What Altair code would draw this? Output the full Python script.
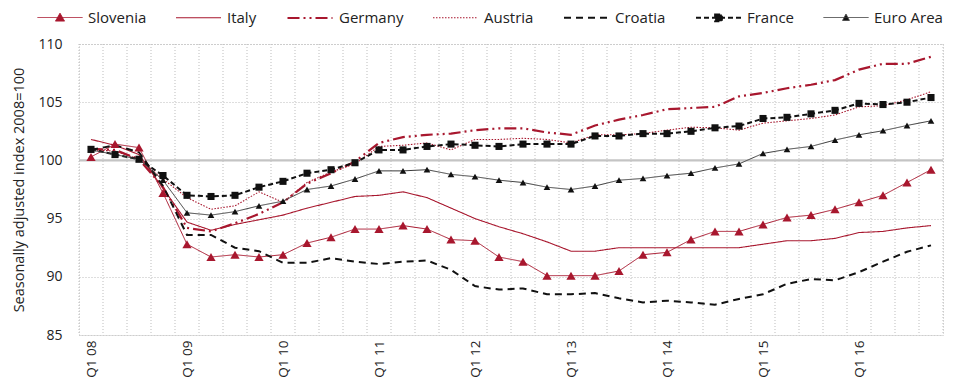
import json
import altair as alt
import pandas as pd

# ---------------- data ----------------
series_names = ["Slovenia", "Italy", "Germany", "Austria", "Croatia", "France", "Euro Area"]

slovenia = [100.3, 101.4, 101.1, 97.2, 92.8, 91.7, 91.9, 91.7, 91.9, 92.9, 93.4, 94.1,
            94.1, 94.4, 94.1, 93.2, 93.1, 91.7, 91.3, 90.1, 90.1, 90.1, 90.5, 91.9,
            92.1, 93.2, 93.9, 93.9, 94.5, 95.1, 95.3, 95.8, 96.4, 97.0, 98.1, 99.2]
italy = [101.8, 101.3, 100.5, 97.6, 94.7, 94.0, 94.5, 94.9, 95.3, 95.9, 96.4, 96.9,
         97.0, 97.3, 96.8, 95.9, 95.0, 94.3, 93.7, 93.0, 92.2, 92.2, 92.5, 92.5,
         92.5, 92.5, 92.5, 92.5, 92.8, 93.1, 93.1, 93.3, 93.8, 93.9, 94.2, 94.4]
germany = [101.0, 100.9, 100.1, 97.7, 94.2, 93.9, 94.6, 95.4, 96.4, 98.0, 98.9, 99.9,
           101.5, 102.0, 102.2, 102.3, 102.6, 102.75, 102.75, 102.4, 102.2, 103.0, 103.5, 103.9,
           104.4, 104.5, 104.6, 105.5, 105.8, 106.2, 106.5, 106.9, 107.8, 108.3, 108.3, 108.9]
austria = [100.9, 100.8, 100.1, 98.4, 96.8, 95.8, 96.1, 97.3, 96.4, 98.1, 99.0, 99.7,
           101.2, 101.3, 101.5, 100.9, 101.8, 101.8, 101.9, 101.8, 101.5, 102.2, 102.2, 102.3,
           102.6, 102.85, 102.8, 102.6, 103.2, 103.4, 103.6, 103.9, 104.6, 104.7, 105.2, 105.9]
croatia = [100.9, 101.3, 100.7, 97.8, 93.6, 93.6, 92.5, 92.2, 91.2, 91.2, 91.6, 91.3,
           91.1, 91.3, 91.4, 90.6, 89.2, 88.9, 89.0, 88.5, 88.5, 88.6, 88.15, 87.8,
           87.95, 87.8, 87.6, 88.1, 88.5, 89.4, 89.8, 89.7, 90.4, 91.3, 92.15, 92.7]
france = [100.95, 100.5, 100.1, 98.7, 97.0, 96.9, 97.0, 97.7, 98.2, 98.9, 99.2, 99.8,
          100.9, 100.9, 101.2, 101.4, 101.3, 101.2, 101.4, 101.4, 101.4, 102.1, 102.1, 102.3,
          102.3, 102.5, 102.8, 102.95, 103.6, 103.7, 104.0, 104.3, 104.9, 104.8, 105.0, 105.4]
euro_area = [100.9, 100.5, 100.1, 98.3, 95.5, 95.3, 95.6, 96.1, 96.5, 97.5, 97.8, 98.4,
             99.1, 99.1, 99.2, 98.8, 98.6, 98.3, 98.1, 97.7, 97.5, 97.8, 98.3, 98.45,
             98.7, 98.9, 99.35, 99.7, 100.6, 100.95, 101.2, 101.75, 102.2, 102.55, 103.0, 103.4]

tick_positions = [0, 4, 8, 12, 16, 20, 24, 28, 32]
tick_labels = ["Q1 08", "Q1 09", "Q1 10", "Q1 11", "Q1 12", "Q1 13", "Q1 14", "Q1 15", "Q1 16"]
y_ticks = [85, 90, 95, 100, 105, 110]

# ---------------- styles ----------------
RED = "#a8172e"
BLACK = "#111111"
FONT = "Open Sans"
GRID = "#bdbdbd"

line_colors = [RED, RED, RED, RED, BLACK, BLACK, "#3a3a3a"]
line_dashes = [[1, 0], [1, 0], [12, 4, 2, 4, 2, 4], [1.5, 1.5], [7, 5], [5, 3], [1, 0]]
line_widths = [1, 1.1, 2.2, 1.1, 2, 2, 1]
legend_fills = [RED, "transparent", "transparent", "transparent", "transparent", BLACK, BLACK]
LINE = "M-1,0L1,0"
legend_shapes = [
    LINE + "M-0.2,0.16L0.2,0.16L0,-0.19Z",
    LINE, LINE, LINE, LINE,
    LINE + "M-0.15,-0.15L0.15,-0.15L0.15,0.15L-0.15,0.15Z",
    LINE + "M-0.15,0.13L0.15,0.13L0,-0.15Z",
]

values = [slovenia, italy, germany, austria, croatia, france, euro_area]
rows = []
for name, vals in zip(series_names, values):
    for i, v in enumerate(vals):
        rows.append({"q": i, "value": v, "series": name})
df = pd.DataFrame(rows)
n_q = len(slovenia)
bounds = pd.DataFrame({"b": [i - 0.5 for i in range(n_q + 1)]})

x_scale = alt.Scale(domain=[-0.5, n_q - 0.5], nice=False, zero=False)
y_scale = alt.Scale(domain=[85, 110], nice=False, zero=False)

label_expr = (json.dumps(tick_labels) + "[indexof(" + json.dumps(tick_positions) + ", datum.value)]")

x_axis = alt.Axis(values=tick_positions, labelExpr=label_expr, labelAngle=-90,
                  grid=False, ticks=False, domain=False, labelPadding=5, title=None,
                  labelFontSize=13.5)
y_axis = alt.Axis(values=y_ticks, grid=True, gridDash=[1, 2], gridColor=GRID,
                  ticks=False, domain=False, labelPadding=17, labelFontSize=14,
                  title="Seasonally adjusted index 2008=100", titleFontSize=14.5,
                  titleFontWeight="normal", titlePadding=11, titleColor="#222")

X = lambda f: alt.X(f, scale=x_scale, axis=x_axis)
Y = lambda f: alt.Y(f, scale=y_scale, axis=y_axis)

def s_scale(rng, **kw):
    return alt.Scale(domain=series_names, range=rng, **kw)

leg = alt.Legend(
    orient="none", legendX=-42, legendY=-50, direction="horizontal", title=None,
    symbolSize=2025, labelFontSize=15, labelFont=FONT, labelColor="#222",
    labelOffset=5, columnPadding=26, symbolOpacity=1,
)

legend_layer = alt.Chart(pd.DataFrame({"series": series_names})).transform_filter("false").mark_point().encode(
    shape=alt.Shape("series:N", scale=s_scale(legend_shapes), legend=leg),
    stroke=alt.Stroke("series:N", scale=s_scale(line_colors), legend=leg),
    fill=alt.Fill("series:N", scale=s_scale(legend_fills), legend=leg),
    strokeDash=alt.StrokeDash("series:N", scale=s_scale(line_dashes), legend=leg),
    strokeWidth=alt.StrokeWidth("series:N", scale=s_scale(line_widths, type="ordinal"), legend=leg),
)

vgrid = alt.Chart(bounds).mark_rule(color=GRID, strokeDash=[1, 2], strokeWidth=1).encode(
    x=X("b:Q")
)

hundred = alt.Chart(pd.DataFrame({"v": [100]})).mark_rule(color="#c4c4c4", strokeWidth=2.2).encode(
    y=Y("v:Q")
)

lines = alt.Chart(df).mark_line().encode(
    x=X("q:Q"),
    y=Y("value:Q"),
    stroke=alt.Stroke("series:N", scale=s_scale(line_colors)),
    strokeDash=alt.StrokeDash("series:N", scale=s_scale(line_dashes)),
    strokeWidth=alt.StrokeWidth("series:N", scale=s_scale(line_widths, type="ordinal")),
    order="q:Q",
)

def markers(name, shape, size, color):
    return alt.Chart(df).transform_filter(alt.datum.series == name).mark_point(
        shape=shape, filled=True, size=size, color=color, opacity=1
    ).encode(x=X("q:Q"), y=Y("value:Q"))

m_slo = markers("Slovenia", "triangle-up", 85, RED)
m_fra = markers("France", "square", 50, BLACK)
m_eur = markers("Euro Area", "triangle-up", 45, BLACK)

chart = alt.layer(legend_layer, vgrid, hundred, lines, m_slo, m_fra, m_eur).properties(
    width=864, height=291,
    autosize=alt.AutoSizeParams(type="none"),
    padding={"left": 71, "top": 36, "right": 9, "bottom": 43},
).configure_view(
    stroke=GRID, strokeDash=[1, 2], strokeWidth=1
).configure_axis(
    labelFont=FONT, titleFont=FONT, labelColor="#222"
)

chart.save("out.html", embed_options={"renderer": "svg", "actions": False})
